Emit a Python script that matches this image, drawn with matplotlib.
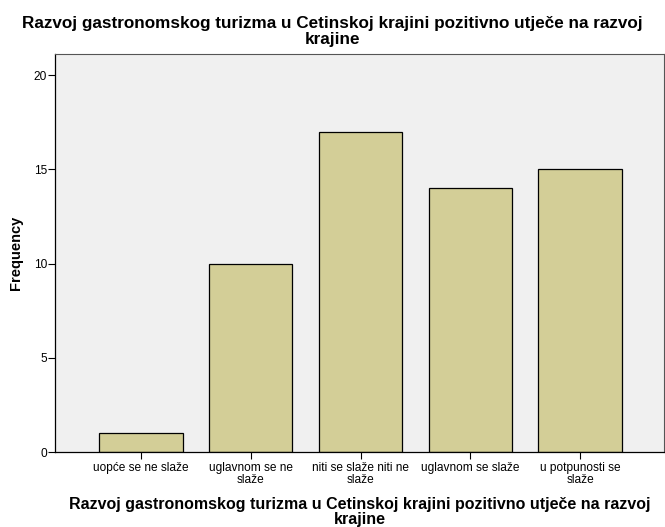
import matplotlib.pyplot as plt

plt.rcParams['font.family'] = ['Liberation Sans', 'DejaVu Sans']

categories = ['uopće se ne slaže', 'uglavnom se ne\nslaže', 'niti se slaže niti ne\nslaže',
              'uglavnom se slaže', 'u potpunosti se\nslaže']
counts = [1, 10, 17, 14, 15]
title = 'Razvoj gastronomskog turizma u Cetinskoj krajini pozitivno utječe na razvoj\nkrajine'

W, H = 665, 527
fig = plt.figure(figsize=(6.65, 5.27), dpi=100)
ax = fig.add_axes([0.083, 0.142, 0.915, 0.755])
ax.set_facecolor('#f0f0f0')

x = range(len(categories))
ax.bar(x, counts, width=0.76, color='#d3ce97', edgecolor='black', linewidth=0.9)

ax.set_xlim(-0.78, 4.76)
ax.set_ylim(0, 21.1)
ax.set_yticks([0, 5, 10, 15, 20])
ax.set_xticks(list(x))
ax.set_xticklabels(categories, fontsize=8.6, linespacing=1.0)
ax.tick_params(axis='y', labelsize=8.6, length=5, width=0.8, pad=1)
ax.tick_params(axis='x', length=5, width=0.8, pad=2)

for s in ['top', 'right']:
    ax.spines[s].set_color('#555555')
    ax.spines[s].set_linewidth(0.8)
for s in ['left', 'bottom']:
    ax.spines[s].set_color('black')
    ax.spines[s].set_linewidth(0.9)

fig.text(16 / W, 0.52, 'Frequency', rotation=90, fontsize=10.5, fontweight='bold',
         ha='center', va='center')
fig.text(360 / W, 1 - 497 / H, title, fontsize=11.5, fontweight='bold',
         linespacing=1.0, ha='center', va='top', multialignment='center')
fig.text(0.5, 1 - 16 / H, title, fontsize=12.3, fontweight='bold',
         linespacing=1.05, ha='center', va='top', multialignment='center')

fig.savefig('out.png', dpi=100)
